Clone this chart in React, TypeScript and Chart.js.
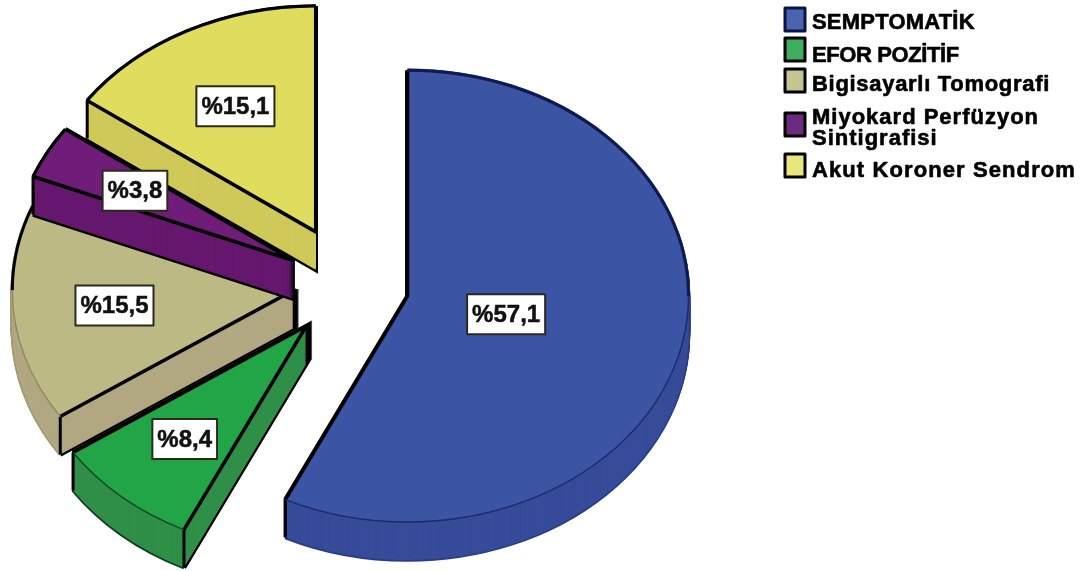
import React, { useEffect, useRef } from "react";
import { Chart, registerables } from "chart.js";

Chart.register(...registerables);

// Patient groups and their shares, in percent
const categories = [
  "SEMPTOMATİK",
  "EFOR POZİTİF",
  "Bigisayarlı Tomografi",
  "Miyokard Perfüzyon\nSintigrafisi",
  "Akut Koroner Sendrom",
];
const shares = [57.1, 8.4, 15.5, 3.8, 15.1];

// Slice styling
const topColors = ["#3b54a3", "#22a546", "#bdb984", "#6f1d78", "#dfdc5e"];
const wallColors = ["#364c99", "#2f8f48", "#b1a882", "#65186e", "#cfc95a"];
const rimColors = ["#2b3e88", "#0f3d1c", "#a39b78", "#000000", "#000000"];
const seamColors = ["#1b2a6b", "#0d4a20", "#8f8a66", "#000000", "#000000"];
const backEdgeColors = ["#0f1a50", "#000000", "#000000", "#000000", "#000000"];
const swatchColors = ["#4a64b0", "#3eae5f", "#c6c591", "#6c2a80", "#e8e67c"];

// Exploded pie geometry
const explodeBy = [59, 67, 57, 64, 75];
const labelReach = [0.36, 0.66, 0.64, 0.645, 0.625];
const tilt = 0.804;
const depth = 38;
const pieRadius = 281;

// Legend layout
const legendTop = [7, 37, 68, 112, 153];
const legendBaselines = [[29], [62], [91], [124, 145], [177]];
const legendTracking = ["0.2px", "-0.4px", "0.7px", "1px", "1.1px"];

const percentText = (v: number) => `%${v.toFixed(1).replace(".", ",")}`;

const extrudedPie = {
  id: "extrudedPie",
  beforeDatasetsDraw(chart: any) {
    const ctx: CanvasRenderingContext2D = chart.ctx;
    const arcs = chart.getDatasetMeta(0).data;

    // Run fn with the context positioned on slice i, lowered by d pixels
    const onSlice = (arc: any, i: number, d: number, fn: () => void) => {
      const mid = (arc.startAngle + arc.endAngle) / 2;
      ctx.save();
      ctx.translate(
        arc.x + Math.cos(mid) * explodeBy[i],
        arc.y + Math.sin(mid) * explodeBy[i] * tilt + d
      );
      ctx.scale(1, tilt);
      ctx.translate(-arc.x, -arc.y);
      fn();
      ctx.restore();
    };
    const fillFace = (arc: any, i: number, d: number, color: string) => {
      const saved = arc.options;
      arc.options = { ...saved, backgroundColor: color, borderWidth: 0 };
      onSlice(arc, i, d, () => arc.draw(ctx));
      arc.options = saved;
    };
    const strokeRadials = (arc: any, i: number, d: number, width: number) => {
      onSlice(arc, i, d, () => {
        const r = arc.outerRadius;
        ctx.beginPath();
        ctx.moveTo(arc.x + Math.cos(arc.startAngle) * r, arc.y + Math.sin(arc.startAngle) * r);
        ctx.lineTo(arc.x, arc.y);
        ctx.lineTo(arc.x + Math.cos(arc.endAngle) * r, arc.y + Math.sin(arc.endAngle) * r);
      });
      ctx.strokeStyle = "#000";
      ctx.lineWidth = width;
      ctx.lineJoin = "miter";
      ctx.miterLimit = 4;
      ctx.stroke();
    };
    const strokeRim = (arc: any, i: number, d: number, a: number, b: number, color: string, width: number) => {
      const from = Math.max(arc.startAngle, a);
      const to = Math.min(arc.endAngle, b);
      if (to <= from) return;
      onSlice(arc, i, d, () => {
        ctx.beginPath();
        ctx.arc(arc.x, arc.y, arc.outerRadius, from, to);
      });
      ctx.strokeStyle = color;
      ctx.lineWidth = width;
      ctx.stroke();
    };

    const HALF = Math.PI / 2;
    arcs.forEach((arc: any, i: number) => {
      // Silhouette of the extruded body
      for (let d = depth; d >= 0; d--) {
        strokeRim(arc, i, d, -10, 10, rimColors[i], 3.5);
      }
      for (let d = depth; d >= 0; d--) {
        strokeRadials(arc, i, d, 4.5);
      }
      // Wall fill
      for (let d = depth; d >= 1; d--) {
        fillFace(arc, i, d, wallColors[i]);
      }
      // Vertical edges at the outer corners of the slice
      const mid = (arc.startAngle + arc.endAngle) / 2;
      const ox = arc.x + Math.cos(mid) * explodeBy[i];
      const oy = arc.y + Math.sin(mid) * explodeBy[i] * tilt;
      [arc.startAngle, arc.endAngle].forEach((ang: number) => {
        const px = ox + Math.cos(ang) * arc.outerRadius;
        const py = oy + Math.sin(ang) * arc.outerRadius * tilt;
        ctx.beginPath();
        ctx.moveTo(px, py);
        ctx.lineTo(px, py + depth);
        ctx.strokeStyle = "#000";
        ctx.lineWidth = 3;
        ctx.stroke();
      });
      // Top face and its edges
      fillFace(arc, i, 0, topColors[i]);
      strokeRadials(arc, i, 0, 3.5);
      strokeRim(arc, i, 0, -HALF, 0, backEdgeColors[i], 3);
      strokeRim(arc, i, 0, Math.PI, 3 * HALF, backEdgeColors[i], 3);
      strokeRim(arc, i, 0, 0, Math.PI, seamColors[i], 1.4);
    });
    return false;
  },
  afterDraw(chart: any) {
    const ctx: CanvasRenderingContext2D = chart.ctx;
    const arcs = chart.getDatasetMeta(0).data;
    ctx.save();
    ctx.lineJoin = "round";

    // Value labels in white boxes
    ctx.textAlign = "center";
    ctx.textBaseline = "middle";
    ctx.font = 'bold 24px "Liberation Sans", Arial, sans-serif';
    arcs.forEach((arc: any, i: number) => {
      const mid = (arc.startAngle + arc.endAngle) / 2;
      const reach = explodeBy[i] + labelReach[i] * arc.outerRadius;
      const x = arc.x + Math.cos(mid) * reach;
      const y = arc.y + Math.sin(mid) * reach * tilt;
      const text = percentText(shares[i]);
      const w = ctx.measureText(text).width + 10;
      const h = 40;
      ctx.fillStyle = "#ffffff";
      ctx.fillRect(x - w / 2, y - h / 2, w, h);
      ctx.strokeStyle = "#2a2a1a";
      ctx.lineWidth = 2;
      ctx.strokeRect(x - w / 2, y - h / 2, w, h);
      ctx.fillStyle = "#111111";
      ctx.strokeStyle = "#111111";
      ctx.lineWidth = 0.5;
      ctx.fillText(text, x, y + 1);
      ctx.strokeText(text, x, y + 1);
    });

    // Legend
    ctx.textAlign = "left";
    ctx.textBaseline = "alphabetic";
    ctx.font = 'bold 22px "Liberation Sans", Arial, sans-serif';
    categories.forEach((name, i) => {
      ctx.fillStyle = swatchColors[i];
      ctx.fillRect(785, legendTop[i] + 1, 20, 23);
      ctx.strokeStyle = i === 0 ? "#0b1440" : "#000000";
      ctx.lineWidth = 3;
      ctx.strokeRect(785, legendTop[i] + 1, 20, 23);
      ctx.fillStyle = "#000000";
      ctx.strokeStyle = "#000000";
      ctx.lineWidth = 0.6;
      (ctx as any).letterSpacing = legendTracking[i];
      name.split("\n").forEach((line, n) => {
        ctx.fillText(line, 812, legendBaselines[i][n]);
        ctx.strokeText(line, 812, legendBaselines[i][n]);
      });
    });
    ctx.restore();
  },
};

export default function App() {
  const ref = useRef<HTMLCanvasElement>(null);
  useEffect(() => {
    const chart = new Chart(ref.current!, {
      type: "pie",
      data: {
        labels: categories,
        datasets: [{ data: shares, backgroundColor: topColors, borderWidth: 0 }],
      },
      options: {
        responsive: false,
        animation: false,
        events: [],
        radius: pieRadius,
        layout: { padding: { right: 388 } },
        plugins: { legend: { display: false }, tooltip: { enabled: false } },
      } as any,
      plugins: [extrudedPie as any],
    });
    return () => chart.destroy();
  }, []);
  return (
    <div style={{ position: "fixed", left: 0, top: 0, width: 1088, height: 571, background: "#fff" }}>
      <canvas ref={ref} width={1088} height={571} style={{ display: "block" }} />
    </div>
  );
}
